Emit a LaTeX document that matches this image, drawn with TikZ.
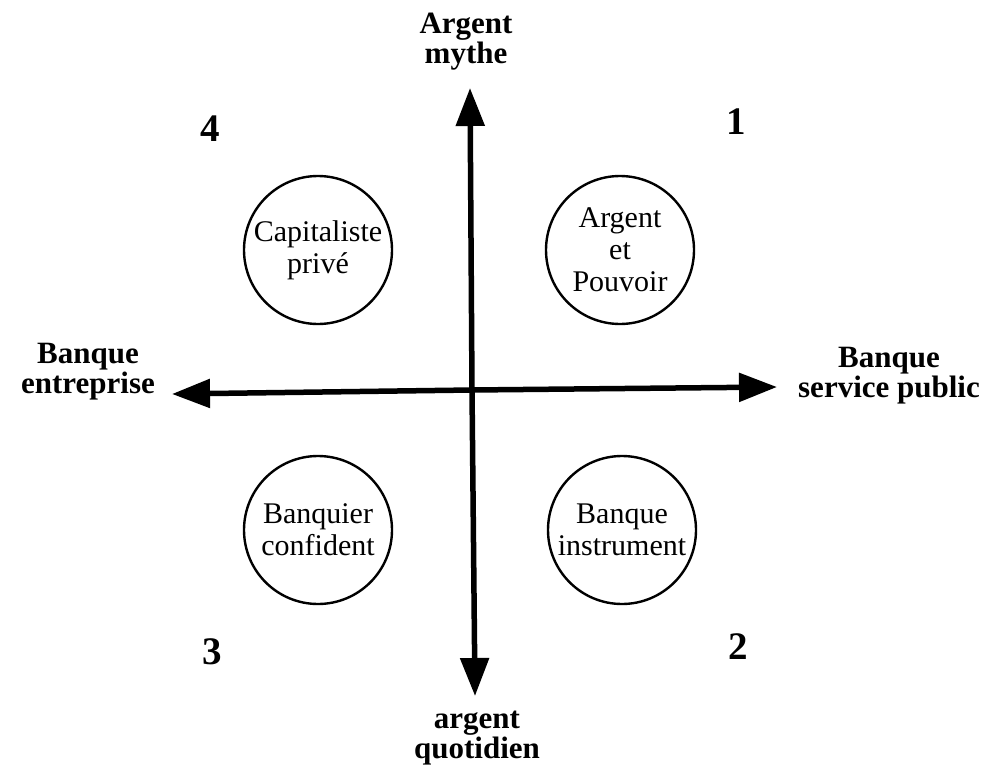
\documentclass[tikz,border=0pt]{standalone}
\usepackage{fontspec}
\setmainfont{Liberation Serif}
\usetikzlibrary{arrows.meta}
\begin{document}
\begin{tikzpicture}[x=1pt,y=-1pt,
  axis/.style={line width=5.5pt,-{Triangle[length=38pt,width=28pt]}},
  bubble/.style={circle,draw,line width=2.4pt,minimum size=148pt,inner sep=0pt,align=center,font=\fontsize{30}{32}\selectfont},
  axlabel/.style={align=center,font=\fontsize{31}{30}\selectfont\bfseries},
  num/.style={font=\fontsize{39}{40}\selectfont\bfseries}]
\useasboundingbox (0,0) rectangle (987,765);
\coordinate (c) at (472,390);
\coordinate (top) at (470,88);
\coordinate (bot) at (475,696);
\coordinate (left) at (172,394);
\coordinate (right) at (777,387);
\draw[axis] (c) -- (top);
\draw[axis] (c) -- (bot);
\draw[axis] (c) -- (left);
\draw[axis] (c) -- (right);
\node[bubble] (q4) at (318,250) {Capitaliste\\priv\'e};
\node[bubble] (q1) at (620,250) {Argent\\et\\Pouvoir};
\node[bubble] (q3) at (318,530) {Banquier\\confident};
\node[bubble] (q2) at (622,530) {Banque\\instrument};
\node[num] (n4) at (210,129) {4};
\node[num] (n1) at (736,122) {1};
\node[num] (n3) at (212,652) {3};
\node[num] (n2) at (738,647) {2};
\node[axlabel] (lt) at (466,42) {Argent\\mythe};
\node[axlabel] (lb) at (477,738) {argent\\quotidien};
\node[axlabel] (ll) at (88,372) {Banque\\entreprise};
\node[axlabel] (lr) at (889,376) {Banque\\service public};
\end{tikzpicture}
\end{document}
